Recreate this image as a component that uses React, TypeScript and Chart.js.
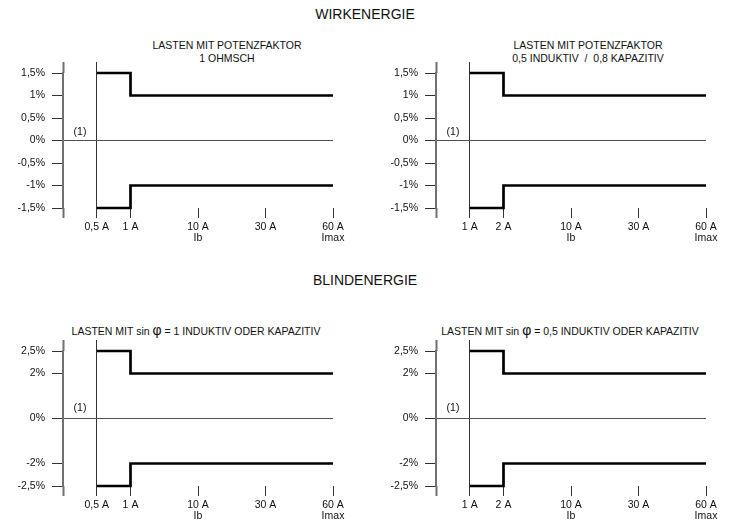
import React, { useEffect, useRef } from 'react';
import { Chart, registerables } from 'chart.js';

Chart.register(...registerables);

const FONT = '"Liberation Sans", Arial, Helvetica, sans-serif';

// ---- axis labels ----
const currentsLow = ['', '0,5 A', '1 A', '', '10 A', '', '30 A', '', '60 A'];
const currentsHigh = ['', '1 A', '2 A', '', '10 A', '', '30 A', '', '60 A'];
const currentNotes: Record<string, string> = { '10 A': 'Ib', '60 A': 'Imax' };
const activeLevels = ['1,5%', '1%', '0,5%', '0%', '-0,5%', '-1%', '-1,5%'];
const reactiveLevels = ['2,5%', '2%', '', '0%', '', '-2%', '-2,5%'];

// ---- limit series (current, error limit) ----
const wirkOhmUpper = [
  { x: '0,5 A', y: '1,5%' },
  { x: '1 A', y: '1%' },
  { x: '60 A', y: '1%' },
];
const wirkOhmLower = [
  { x: '0,5 A', y: '-1,5%' },
  { x: '1 A', y: '-1%' },
  { x: '60 A', y: '-1%' },
];
const wirkIndUpper = [
  { x: '1 A', y: '1,5%' },
  { x: '2 A', y: '1%' },
  { x: '60 A', y: '1%' },
];
const wirkIndLower = [
  { x: '1 A', y: '-1,5%' },
  { x: '2 A', y: '-1%' },
  { x: '60 A', y: '-1%' },
];
const blind1Upper = [
  { x: '0,5 A', y: '2,5%' },
  { x: '1 A', y: '2%' },
  { x: '60 A', y: '2%' },
];
const blind1Lower = [
  { x: '0,5 A', y: '-2,5%' },
  { x: '1 A', y: '-2%' },
  { x: '60 A', y: '-2%' },
];
const blind05Upper = [
  { x: '1 A', y: '2,5%' },
  { x: '2 A', y: '2%' },
  { x: '60 A', y: '2%' },
];
const blind05Lower = [
  { x: '1 A', y: '-2,5%' },
  { x: '2 A', y: '-2%' },
  { x: '60 A', y: '-2%' },
];

const AXIS_GRAY = '#707070';
const DARK = '#333333';
const ZERO = '#505050';
const TEXT = '#111111';

type Pt = { x: string; y: string };

interface ChartProps {
  xLabels: string[];
  yLabels: string[];
  upper: Pt[];
  lower: Pt[];
  left: number;
  top: number;
  width: number;
  height: number;
  areaLeft: number;
  padRight: number;
  padTop: number;
  bottomAxis: number;
}

function LimitChart(p: ChartProps) {
  const ref = useRef<HTMLCanvasElement>(null);
  useEffect(() => {
    const xLabels = p.xLabels.slice();
    const yLabels = p.yLabels.slice();
    const startIdx = xLabels.indexOf(p.upper[0].x);
    const ds = (data: Pt[]) => ({
      data,
      borderColor: '#000',
      borderWidth: 2.7,
      pointRadius: 0,
      stepped: true,
      fill: false,
      clip: false as any,
    });
    const tickFont = { family: FONT, size: 10.5, lineHeight: 1.1 };
    const chart = new Chart(ref.current as HTMLCanvasElement, {
      type: 'line',
      data: { datasets: [ds(p.upper), ds(p.lower)] as any },
      options: {
        animation: false,
        responsive: false,
        maintainAspectRatio: false,
        devicePixelRatio: 1,
        events: [],
        layout: { padding: { left: 0, right: p.padRight, top: p.padTop, bottom: 0 } },
        plugins: { legend: { display: false }, tooltip: { enabled: false }, title: { display: false } },
        scales: {
          x: {
            type: 'category',
            labels: xLabels,
            position: 'bottom',
            offset: false,
            border: { display: false },
            grid: {
              drawOnChartArea: true,
              drawTicks: true,
              tickLength: 10,
              lineWidth: 1,
              color: (c: any) => (c.index === startIdx ? DARK : 'transparent'),
              tickColor: (c: any) =>
                c.index === 0 ? AXIS_GRAY : xLabels[c.index] ? DARK : 'transparent',
              tickWidth: (c: any) => (c.index === 0 ? 2 : 1),
            },
            ticks: {
              autoSkip: false,
              maxRotation: 0,
              minRotation: 0,
              padding: 3,
              color: TEXT,
              font: tickFont,
              callback: (v: any) => {
                const l = xLabels[v];
                const note = currentNotes[l];
                return note ? [l, note] : l;
              },
            },
            afterFit: (s: any) => {
              s.height = p.bottomAxis;
            },
          } as any,
          xTop: {
            type: 'category',
            labels: xLabels,
            position: 'top',
            offset: false,
            border: { display: false },
            grid: {
              drawOnChartArea: false,
              drawTicks: true,
              tickLength: 11,
              color: 'transparent',
              tickColor: (c: any) =>
                c.index === 0 ? AXIS_GRAY : c.index === startIdx ? DARK : 'transparent',
              tickWidth: (c: any) => (c.index === 0 ? 2 : 1),
            },
            ticks: { display: false },
            afterFit: (s: any) => {
              s.height = 11;
            },
          } as any,
          y: {
            type: 'category',
            labels: yLabels,
            position: 'left',
            offset: false,
            border: { display: true, color: AXIS_GRAY, width: 2 },
            grid: {
              drawOnChartArea: true,
              drawTicks: true,
              tickLength: 11,
              lineWidth: 1,
              color: (c: any) => (yLabels[c.index] === '0%' ? ZERO : 'transparent'),
              tickColor: (c: any) => (yLabels[c.index] ? DARK : 'transparent'),
            },
            ticks: {
              autoSkip: false,
              padding: 7,
              color: TEXT,
              font: tickFont,
            },
            afterFit: (s: any) => {
              s.width = p.areaLeft;
            },
          } as any,
        },
      },
    });
    return () => chart.destroy();
  }, []);
  return (
    <canvas
      ref={ref}
      width={p.width}
      height={p.height}
      style={{ position: 'absolute', left: p.left, top: p.top, width: p.width, height: p.height }}
    />
  );
}

const textBase: React.CSSProperties = {
  position: 'absolute',
  fontFamily: FONT,
  color: TEXT,
  whiteSpace: 'nowrap',
  transform: 'translateX(-50%)',
  textAlign: 'center',
};

function Label(props: { x: number; y: number; size: number; children: React.ReactNode }) {
  return (
    <div
      style={{
        ...textBase,
        left: props.x,
        top: props.y - props.size / 2,
        fontSize: props.size,
        lineHeight: props.size + 'px',
      }}
    >
      {props.children}
    </div>
  );
}

const Phi = () => (
  <span style={{ fontFamily: FONT, fontSize: 14, lineHeight: '10px', color: TEXT }}>φ</span>
);

export default function App() {
  return (
    <div
      style={{
        position: 'absolute',
        left: 0,
        top: 0,
        width: 730,
        height: 520,
        overflow: 'hidden',
        background: '#fff',
      }}
    >
      <Label x={365} y={14} size={14}>WIRKENERGIE</Label>
      <Label x={365} y={280} size={14}>BLINDENERGIE</Label>

      <Label x={227} y={45.5} size={10.5}>LASTEN MIT POTENZFAKTOR</Label>
      <Label x={227} y={58.5} size={10.5}>1 OHMSCH</Label>
      <Label x={588} y={45.5} size={10.5}>LASTEN MIT POTENZFAKTOR</Label>
      <Label x={588} y={58.5} size={10.5}>0,5 INDUKTIV&nbsp;&nbsp;/&nbsp;&nbsp;0,8 KAPAZITIV</Label>
      <Label x={196} y={330.5} size={10.5}>
        LASTEN MIT sin <Phi /> = 1 INDUKTIV ODER KAPAZITIV
      </Label>
      <Label x={570} y={330.5} size={10.5}>
        LASTEN MIT sin <Phi /> = 0,5 INDUKTIV ODER KAPAZITIV
      </Label>

      <LimitChart
        xLabels={currentsLow}
        yLabels={activeLevels}
        upper={wirkOhmUpper}
        lower={wirkOhmLower}
        left={0}
        top={50}
        width={365}
        height={200}
        areaLeft={63}
        padRight={32}
        padTop={12}
        bottomAxis={42}
      />
      <LimitChart
        xLabels={currentsHigh}
        yLabels={activeLevels}
        upper={wirkIndUpper}
        lower={wirkIndLower}
        left={365}
        top={50}
        width={365}
        height={200}
        areaLeft={71}
        padRight={24}
        padTop={12}
        bottomAxis={42}
      />
      <LimitChart
        xLabels={currentsLow}
        yLabels={reactiveLevels}
        upper={blind1Upper}
        lower={blind1Lower}
        left={0}
        top={328}
        width={365}
        height={192}
        areaLeft={63}
        padRight={32}
        padTop={12}
        bottomAxis={34}
      />
      <LimitChart
        xLabels={currentsHigh}
        yLabels={reactiveLevels}
        upper={blind05Upper}
        lower={blind05Lower}
        left={365}
        top={328}
        width={365}
        height={192}
        areaLeft={71}
        padRight={24}
        padTop={12}
        bottomAxis={34}
      />

      <Label x={80} y={131} size={10.5}>(1)</Label>
      <Label x={453} y={131} size={10.5}>(1)</Label>
      <Label x={80} y={407.5} size={10.5}>(1)</Label>
      <Label x={453} y={407.5} size={10.5}>(1)</Label>
    </div>
  );
}
